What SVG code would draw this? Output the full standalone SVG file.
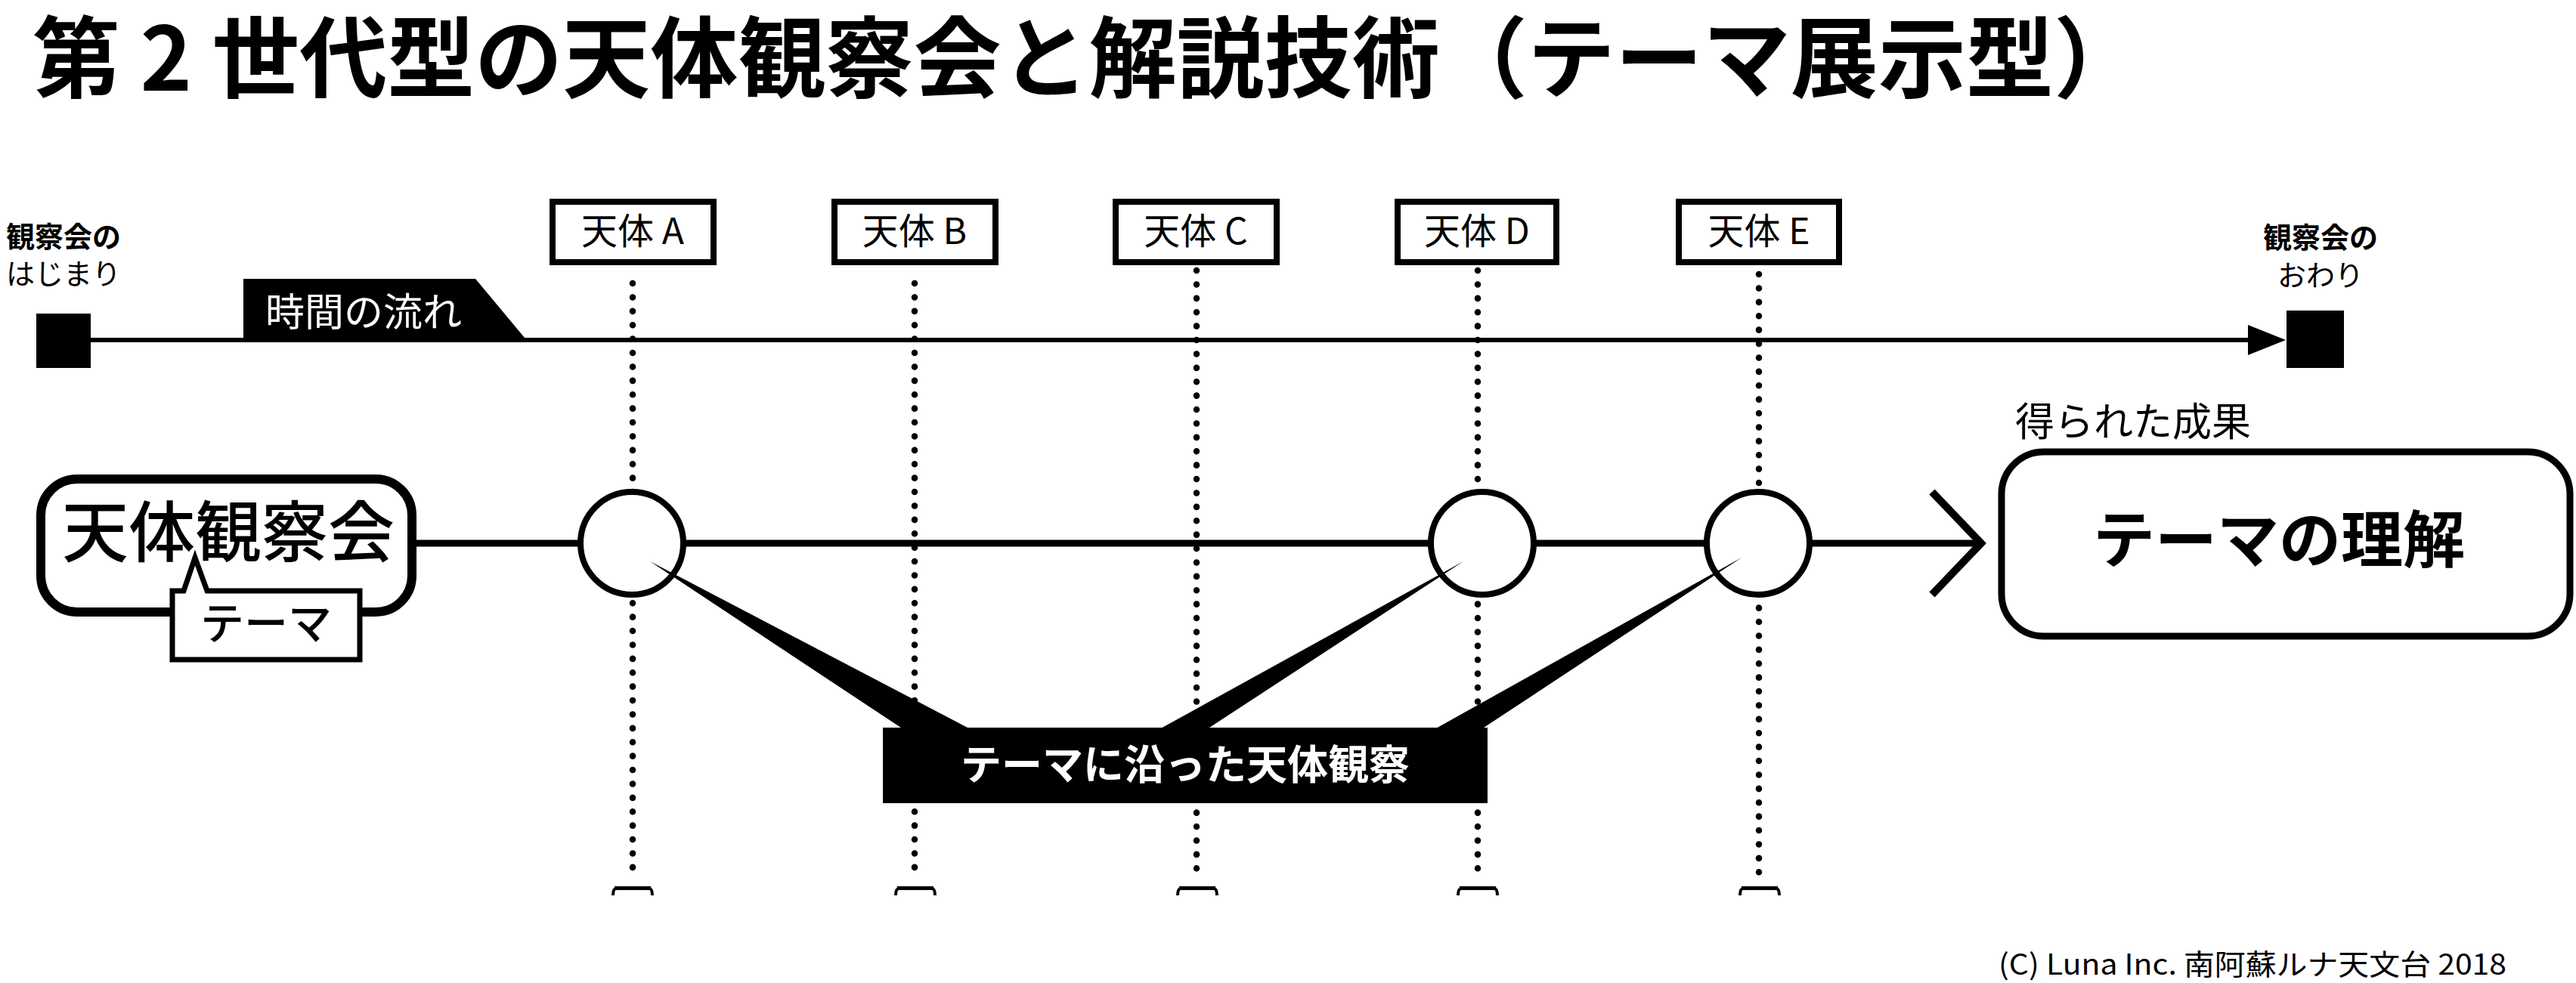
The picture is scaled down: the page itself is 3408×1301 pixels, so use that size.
<svg xmlns="http://www.w3.org/2000/svg" xmlns:xlink="http://www.w3.org/1999/xlink" width="3408" height="1301" viewBox="0 0 3408 1301">
<style>
text { font-family: "Noto Sans CJK JP", "Noto Sans", sans-serif; fill: #000; }
.w { fill: #fff; }
.b { font-weight: bold; }
.m { font-weight: 500; }
.dot { stroke: #000; stroke-width: 8.5; stroke-linecap: round; stroke-dasharray: 0.1 18.3; fill: none; }
.ln { stroke: #000; fill: none; }
.box { fill: #fff; stroke: #000; stroke-width: 8; }
.circ { fill: #fff; stroke: #000; stroke-width: 8; }
</style>
<defs>
<g id="cap">
<rect x="-24" y="1173" width="48" height="5" fill="#000"/>
<path d="M -26 1185 C -26 1179 -25 1176 -21 1175.5 L 21 1175.5 C 25 1176 26 1179 26 1185" fill="none" stroke="#000" stroke-width="4"/>
</g>
</defs>
<rect width="3408" height="1301" fill="#fff"/>

<text id="title" x="43" y="120" font-size="117" class="b" textLength="2790" lengthAdjust="spacingAndGlyphs">第 2 世代型の天体観察会と解説技術（テーマ展示型）</text>

<g id="connectors">
  <line class="dot" x1="837" y1="375" x2="837" y2="1165"/>
  <line class="dot" x1="1210" y1="375" x2="1210" y2="1165"/>
  <line class="dot" x1="1583" y1="358" x2="1583" y2="1165"/>
  <line class="dot" x1="1955" y1="358" x2="1955" y2="1165"/>
  <line class="dot" x1="2327" y1="363" x2="2327" y2="1165"/>
  <use xlink:href="#cap" x="837"/>
  <use xlink:href="#cap" x="1211"/>
  <use xlink:href="#cap" x="1584"/>
  <use xlink:href="#cap" x="1955"/>
  <use xlink:href="#cap" x="2328"/>
  <line class="ln" x1="120" y1="450" x2="2980" y2="450" stroke-width="6"/>
  <polygon points="2974,430 3024,450 2974,470" fill="#000"/>
  <line class="ln" x1="545" y1="719" x2="2620" y2="719" stroke-width="9"/>
  <polyline class="ln" points="2556,651 2621,719 2556,787" stroke-width="10"/>
</g>

<g id="start-marker">
  <rect x="48" y="415" width="72" height="72" fill="#000"/>
  <text x="84" y="327" font-size="38" class="b" text-anchor="middle">観察会の</text>
  <text x="84" y="376" font-size="38" text-anchor="middle">はじまり</text>
</g>

<g id="end-marker">
  <rect x="3025" y="411" width="76" height="76" fill="#000"/>
  <text x="3070" y="328" font-size="38" class="b" text-anchor="middle">観察会の</text>
  <text x="3070" y="378" font-size="38" text-anchor="middle">おわり</text>
</g>

<g id="time-label">
  <polygon points="322,369 629,369 694,447 322,447" fill="#000"/>
  <text x="481" y="432" font-size="52" class="w" text-anchor="middle">時間の流れ</text>
</g>

<g id="obj-a"><rect class="box" x="731" y="267" width="213" height="80"/><text x="837" y="323" font-size="48" text-anchor="middle">天体 A</text></g>
<g id="obj-b"><rect class="box" x="1104" y="267" width="213" height="80"/><text x="1210" y="323" font-size="48" text-anchor="middle">天体 B</text></g>
<g id="obj-c"><rect class="box" x="1476" y="267" width="213" height="80"/><text x="1582" y="323" font-size="48" text-anchor="middle">天体 C</text></g>
<g id="obj-d"><rect class="box" x="1849" y="267" width="210" height="80"/><text x="1954" y="323" font-size="48" text-anchor="middle">天体 D</text></g>
<g id="obj-e"><rect class="box" x="2221" y="267" width="212" height="80"/><text x="2327" y="323" font-size="48" text-anchor="middle">天体 E</text></g>

<g id="node-kansatsukai">
  <rect x="54" y="634" width="491" height="176" rx="48" fill="#fff" stroke="#000" stroke-width="12"/>
  <text x="302" y="736" font-size="88" class="m" text-anchor="middle">天体観察会</text>
</g>

<g id="theme-callout">
  <path d="M 228 782 L 243 782 L 258 738 L 274 782 L 476 782 L 476 873 L 228 873 Z" fill="#fff" stroke="#000" stroke-width="7" stroke-linejoin="miter"/>
  <text x="352" y="846" font-size="58" class="m" text-anchor="middle">テーマ</text>
</g>

<g id="point-a"><circle class="circ" cx="836" cy="719" r="68"/></g>
<g id="point-d"><circle class="circ" cx="1961" cy="719" r="68"/></g>
<g id="point-e"><circle class="circ" cx="2326" cy="719" r="68"/></g>

<g id="theme-observation">
  <polygon points="860,743 1280,963 1290,975 1210,975" fill="#000"/>
  <polygon points="1936,743 1600,963 1590,975 1516,975" fill="#000"/>
  <polygon points="2304,738 1963,963 1955,975 1880,975" fill="#000"/>
  <rect x="1168" y="963" width="800" height="100" fill="#000"/>
  <text x="1568" y="1032" font-size="54" class="w b" text-anchor="middle">テーマに沿った天体観察</text>
</g>

<g id="result">
  <text x="2666" y="577" font-size="52">得られた成果</text>
  <rect x="2648" y="598" width="752" height="244" rx="56" fill="#fff" stroke="#000" stroke-width="9"/>
  <text x="3015" y="744" font-size="82" class="b" text-anchor="middle">テーマの理解</text>
</g>

<text id="copyright" x="2644" y="1290" font-size="38" font-family="'Open Sans', 'Noto Sans CJK JP', sans-serif" textLength="672" lengthAdjust="spacingAndGlyphs">(C) Luna Inc. 南阿蘇ルナ天文台 2018</text>
</svg>
